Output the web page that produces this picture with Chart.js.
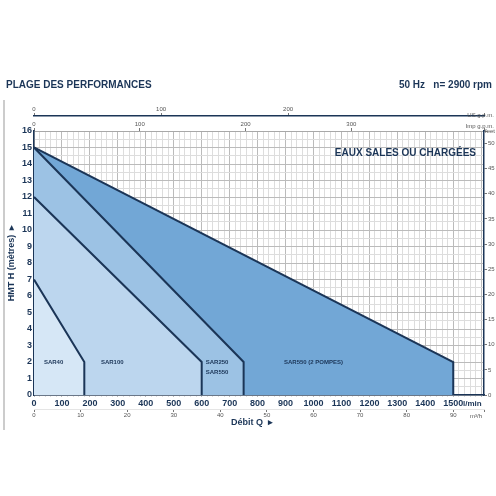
<!DOCTYPE html><html><head><meta charset="utf-8">
<script src="https://cdn.jsdelivr.net/npm/chart.js@4"></script>
<style>html,body{margin:0;padding:0;background:#fff}#w{width:496px;height:496px}</style></head><body><div id="w"><canvas id="c"></canvas></div>
<script>
const sar40X=[0,180,180], sar40Y=[7,2,0];
const sar100X=[0,600,600], sar100Y=[12,2,0];
const sar250X=[0,750,750], sar250Y=[15,2,0];
const sar550X=[0,1500,1500], sar550Y=[15,2,0];
const xTicks=[0,100,200,300,400,500,600,700,800,900,1000,1100,1200,1300,1400,1500];
const labels=[{t:'SAR40',x:70,y:2},{t:'SAR100',x:280,y:2},{t:'SAR250',x:655,y:2},{t:'SAR550',x:655,y:1.4},{t:'SAR550 (2 POMPES)',x:1000,y:2}];
const XMAX=1610, NAVY='#1b3557';
const pts=(xs,ys)=>xs.map((x,i)=>({x,y:ys[i]}));
function ds(lbl,xs,ys,fill,ord){return{label:lbl,data:pts(xs,ys),showLine:true,fill:'origin',backgroundColor:fill,borderColor:NAVY,borderWidth:2,pointRadius:0,order:ord,tension:0};}
const small={size:6,family:'Liberation Sans'}, main={size:9,weight:'bold',family:'Liberation Sans'};
const fixW=w=>function(s){s.width=w;}, fixH=h=>function(s){s.height=h;};
const stepCb=st=>v=>Math.abs(v%st)<1e-6?v:'';
const deco={id:'deco',afterDraw(ch){const c=ch.ctx,a=ch.chartArea,x=ch.scales.x,y=ch.scales.y;c.save();c.fillStyle=NAVY;
c.font='bold 10px "Liberation Sans"';c.textBaseline='middle';c.textAlign='left';c.fillText('PLAGE DES PERFORMANCES',6,85);
c.textAlign='right';c.fillText('50 Hz   n= 2900 rpm',492,85);
c.fillText('EAUX SALES OU CHARGÉES',476,153);
c.font='bold 6px "Liberation Sans"';c.textAlign='center';labels.forEach(l=>c.fillText(l.t,x.getPixelForValue(l.x),y.getPixelForValue(l.y)));
c.font='bold 8px "Liberation Sans"';c.textAlign='left';c.fillText('l/min',463,404);
c.font='6px "Liberation Sans"';c.fillStyle='#555';c.fillText('m³/h',470,416);c.textAlign='right';c.fillText('US g.p.m.',494,115);c.fillText('Imp g.p.m.',494,126);c.fillText('feet',495,131);
c.fillStyle=NAVY;c.font='bold 9px "Liberation Sans"';c.textAlign='center';c.fillText('Débit Q  ▸',252,423);
c.translate(12,(a.top+a.bottom)/2);c.rotate(-Math.PI/2);c.fillText('HMT H (mètres)  ▸',0,0);
c.restore();c.save();c.strokeStyle='#999';c.lineWidth=1;c.beginPath();c.moveTo(4,100);c.lineTo(4,430);c.stroke();c.restore();}};
new Chart(document.getElementById('c'),{type:'scatter',data:{datasets:[ds('SAR40',sar40X,sar40Y,'#d6e7f6',1),ds('SAR100',sar100X,sar100Y,'#bcd6ee',2),ds('SAR250',sar250X,sar250Y,'#9cc2e4',3),ds('SAR550',sar550X,sar550Y,'#72a7d6',4)]},
options:{responsive:true,maintainAspectRatio:false,animation:false,plugins:{legend:{display:false},tooltip:{enabled:false}},
layout:{padding:{top:100,bottom:71,left:0,right:0}},
scales:{
x:{type:'linear',position:'bottom',min:0,max:XMAX,afterBuildTicks(s){const t=[];for(let v=0;v<=XMAX;v+=20)t.push({value:v});s.ticks=t;},
 ticks:{autoSkip:false,maxRotation:0,color:NAVY,font:main,padding:1,callback:v=>xTicks.includes(v)?v:''},grid:{color:c=>c.tick&&c.tick.value%100===0?'#bbb':'#ddd',tickLength:2},border:{color:NAVY,width:1.5},afterFit:fixH(14),weight:1},
m3:{type:'linear',position:'bottom',min:0,max:XMAX*0.06,ticks:{stepSize:10,color:'#555',font:small,padding:0,callback:stepCb(10)},grid:{drawOnChartArea:false,tickLength:3,color:'#777'},afterFit:fixH(16),weight:2},
imp:{type:'linear',position:'top',min:0,max:XMAX/4.546,ticks:{stepSize:100,color:'#555',font:small,padding:0,callback:stepCb(100)},grid:{drawOnChartArea:false,tickLength:3,color:'#777'},border:{color:NAVY,width:1.5},afterFit:fixH(16),weight:2},
us:{type:'linear',position:'top',min:0,max:XMAX/3.785,ticks:{stepSize:100,color:'#555',font:small,padding:0,callback:stepCb(100)},grid:{drawOnChartArea:false,tickLength:3,color:'#777'},afterFit:fixH(15),weight:1},
y:{min:0,max:16,afterBuildTicks(s){const t=[];for(let v=0;v<=16;v+=0.5)t.push({value:v});s.ticks=t;},ticks:{autoSkip:false,color:NAVY,font:main,padding:2,callback:v=>Number.isInteger(v)?v:''},grid:{color:c=>c.tick&&Number.isInteger(c.tick.value)?'#bbb':'#ddd',tickLength:0},border:{color:NAVY,width:1.5},afterFit:fixW(34)},
ft:{position:'right',min:0,max:16/0.3048,ticks:{stepSize:5,color:'#555',font:small,padding:1,callback:stepCb(5)},grid:{drawOnChartArea:false,tickLength:3,color:'#777'},border:{color:NAVY,width:1.5},afterFit:fixW(12)}
}},plugins:[deco]});
</script></body></html>
